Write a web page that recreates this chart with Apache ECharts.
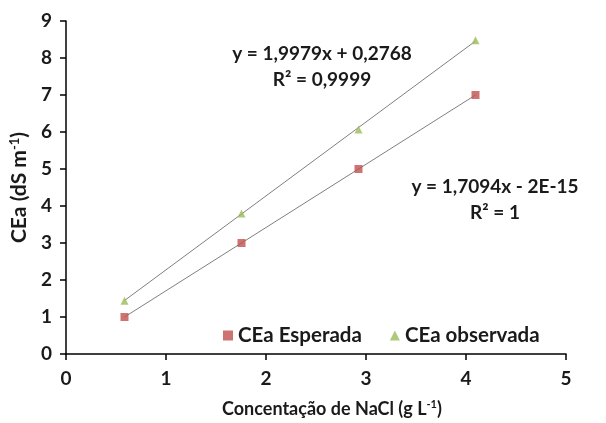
<!DOCTYPE html>
<html>
<head>
<meta charset="utf-8">
<script src="https://cdn.jsdelivr.net/npm/echarts@6/dist/echarts.min.js"></script>
<style>
  html, body { margin: 0; padding: 0; background: #fff; }
  #chart { width: 606px; height: 423px; }
</style>
</head>
<body>
<div id="chart"></div>
<script>
// NaCl concentration (g L-1) and electrical conductivity (dS m-1)
const concentration = [0.585, 1.755, 2.925, 4.095];
const ceaEsperada = [1.0, 3.0, 5.0, 7.0];
const ceaObservada = [1.44, 3.80, 6.07, 8.48];

// Linear trendline coefficients: [slope, intercept]
const fitEsperada = [1.7094, 0];
const fitObservada = [1.9979, 0.2768];

const eqEsperada = ['y = 1,7094x - 2E-15', 'R² = 1'];
const eqObservada = ['y = 1,9979x + 0,2768', 'R² = 0,9999'];

const xTicks = [0, 1, 2, 3, 4, 5];
const yTicks = [0, 1, 2, 3, 4, 5, 6, 7, 8, 9];

const FONT = 'Lato, "Open Sans", sans-serif';
const RED = '#C0504D';
const GREEN = '#9BBB59';
const INK = '#1a1a1a';

function pairs(xs, ys) { return xs.map((x, i) => [x, ys[i]]); }
function trend(fit) {
  const x0 = concentration[0], x1 = concentration[concentration.length - 1];
  return [[x0, fit[0] * x0 + fit[1]], [x1, fit[0] * x1 + fit[1]]];
}

const chart = echarts.init(document.getElementById('chart'));
chart.setOption({
  animation: false,
  textStyle: { fontFamily: FONT },
  grid: { left: 66, right: 40, top: 21, bottom: 63 },
  xAxis: {
    type: 'value', min: xTicks[0], max: xTicks[xTicks.length - 1], interval: 1,
    name: 'Concentação de NaCl (g L{sup|-1})', nameLocation: 'middle', nameGap: 45,
    nameTextStyle: { fontSize: 18, color: INK, fontWeight: 'bold', fontFamily: FONT,
      padding: [0, 0, 0, 32],
      rich: { sup: { fontSize: 11, fontWeight: 'bold', padding: [0, 0, 9, 0], color: INK, fontFamily: FONT } } },
    axisLine: { lineStyle: { color: '#000', width: 1.5 } },
    axisTick: { show: true, length: 6, lineStyle: { color: '#000', width: 1.5 } },
    axisLabel: { fontSize: 19, fontWeight: 'bold', color: INK, margin: 15, fontFamily: FONT },
    splitLine: { show: false }
  },
  yAxis: {
    type: 'value', min: yTicks[0], max: yTicks[yTicks.length - 1], interval: 1,
    name: 'CEa (dS m{sup|-1})', nameLocation: 'middle', nameGap: 27, nameRotate: 90,
    nameTextStyle: { fontSize: 21, color: INK, fontWeight: 'bold', fontFamily: FONT,
      rich: { sup: { fontSize: 13, fontWeight: 'bold', padding: [0, 0, 10, 0], color: INK, fontFamily: FONT } } },
    axisLine: { show: true, lineStyle: { color: '#000', width: 1.5 } },
    axisTick: { show: true, length: 6, lineStyle: { color: '#000', width: 1.5 } },
    axisLabel: { fontSize: 19, fontWeight: 'bold', color: INK, margin: 14, fontFamily: FONT },
    splitLine: { show: false }
  },
  legend: {
    left: 218, top: 320, itemGap: 28, itemWidth: 10, itemHeight: 10,
    textStyle: { fontSize: 20.5, fontWeight: 'bold', color: INK, fontFamily: FONT },
    data: [
      { name: 'CEa Esperada', icon: 'rect', itemStyle: { color: RED } },
      { name: 'CEa observada', icon: 'triangle', itemStyle: { color: GREEN } }
    ]
  },
  series: [
    {
      name: 'fit esperada', type: 'line', data: trend(fitEsperada),
      symbol: 'none', lineStyle: { color: '#7f7f7f', width: 1 }, silent: true, z: 1
    },
    {
      name: 'fit observada', type: 'line', data: trend(fitObservada),
      symbol: 'none', lineStyle: { color: '#7f7f7f', width: 1 }, silent: true, z: 1
    },
    {
      name: 'CEa Esperada', type: 'scatter', data: pairs(concentration, ceaEsperada),
      symbol: 'rect', symbolSize: 8, itemStyle: { color: RED }, z: 3
    },
    {
      name: 'CEa observada', type: 'scatter', data: pairs(concentration, ceaObservada),
      symbol: 'triangle', symbolSize: 8, itemStyle: { color: GREEN }, z: 3
    }
  ],
  graphic: [
    {
      type: 'text', x: 322, y: 67,
      style: { text: eqObservada[0] + '\n' + eqObservada[1], align: 'center', verticalAlign: 'middle',
        font: 'bold 19px ' + FONT, fill: INK, lineHeight: 26 }
    },
    {
      type: 'text', x: 495, y: 200,
      style: { text: eqEsperada[0] + '\n' + eqEsperada[1], align: 'center', verticalAlign: 'middle',
        font: 'bold 19px ' + FONT, fill: INK, lineHeight: 26 }
    }
  ]
});
</script>
</body>
</html>
